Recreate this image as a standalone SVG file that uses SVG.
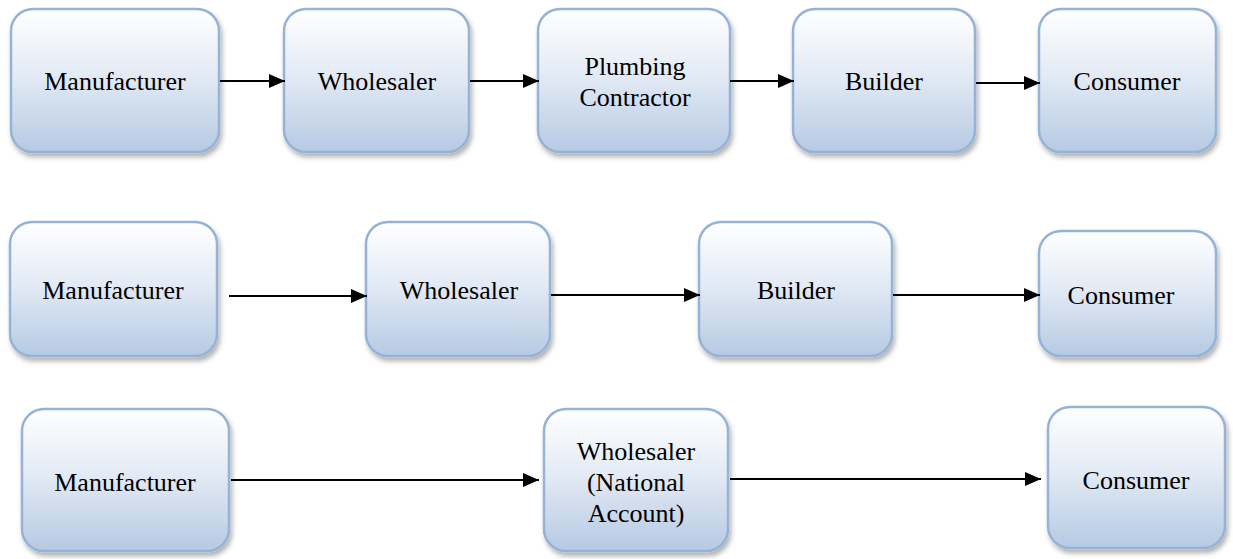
<svg xmlns="http://www.w3.org/2000/svg" width="1233" height="559" viewBox="0 0 1233 559">
  <defs>
    <linearGradient id="boxFill" x1="0" y1="0" x2="0" y2="1">
      <stop offset="0" stop-color="#ffffff"/>
      <stop offset="0.45" stop-color="#e4ebf5"/>
      <stop offset="1" stop-color="#b6cae3"/>
    </linearGradient>
    <filter id="shadow" x="-10%" y="-10%" width="125%" height="130%">
      <feDropShadow dx="2" dy="4" stdDeviation="2.5" flood-color="#000" flood-opacity="0.3"/>
    </filter>
    <marker id="arrow" viewBox="0 0 16 14" refX="16" refY="7" markerWidth="16" markerHeight="14" markerUnits="userSpaceOnUse" orient="auto">
      <path d="M0,0 L16,7 L0,14 z" fill="#000"/>
    </marker>
  </defs>
  <style>
    .box { fill: url(#boxFill); stroke: #95b3d7; stroke-width: 2.5; filter: url(#shadow); }
    .lbl { font-family: "Liberation Serif", "Times New Roman", serif; font-size: 26px; fill: #000; text-anchor: middle; }
    .conn { stroke: #000; stroke-width: 1.8; fill: none; marker-end: url(#arrow); }
  </style>
  <rect width="1233" height="559" fill="#ffffff"/>

  <!-- Row 1 -->
  <g id="r1-manufacturer">
    <rect class="box" x="11" y="9" width="208" height="143" rx="22"/>
    <text class="lbl" x="115" y="90">Manufacturer</text>
  </g>
  <g id="r1-wholesaler">
    <rect class="box" x="284" y="9" width="185" height="143" rx="22"/>
    <text class="lbl" x="377" y="90">Wholesaler</text>
  </g>
  <g id="r1-plumbing">
    <rect class="box" x="538" y="9" width="192" height="143" rx="22"/>
    <text class="lbl" x="635" y="75">Plumbing</text>
    <text class="lbl" x="635" y="106">Contractor</text>
  </g>
  <g id="r1-builder">
    <rect class="box" x="793" y="9" width="182" height="143" rx="22"/>
    <text class="lbl" x="884" y="90">Builder</text>
  </g>
  <g id="r1-consumer">
    <rect class="box" x="1039" y="9" width="177" height="143" rx="22"/>
    <text class="lbl" x="1127" y="90">Consumer</text>
  </g>

  <!-- Row 2 -->
  <g id="r2-manufacturer">
    <rect class="box" x="10" y="222" width="207" height="134" rx="22"/>
    <text class="lbl" x="113" y="299">Manufacturer</text>
  </g>
  <g id="r2-wholesaler">
    <rect class="box" x="366" y="222" width="184" height="134" rx="22"/>
    <text class="lbl" x="459" y="299">Wholesaler</text>
  </g>
  <g id="r2-builder">
    <rect class="box" x="699" y="222" width="193" height="134" rx="22"/>
    <text class="lbl" x="796" y="299">Builder</text>
  </g>
  <g id="r2-consumer">
    <rect class="box" x="1039" y="231" width="177" height="125" rx="22"/>
    <text class="lbl" x="1121" y="304">Consumer</text>
  </g>

  <!-- Row 3 -->
  <g id="r3-manufacturer">
    <rect class="box" x="22" y="409" width="207" height="142" rx="22"/>
    <text class="lbl" x="125" y="491">Manufacturer</text>
  </g>
  <g id="r3-wholesaler">
    <rect class="box" x="544" y="409" width="184" height="142" rx="22"/>
    <text class="lbl" x="636" y="460">Wholesaler</text>
    <text class="lbl" x="636" y="491">(National</text>
    <text class="lbl" x="636" y="522">Account)</text>
  </g>
  <g id="r3-consumer">
    <rect class="box" x="1048" y="407" width="177" height="141" rx="22"/>
    <text class="lbl" x="1136" y="489">Consumer</text>
  </g>

  <!-- Connectors -->
  <g id="connectors">
    <line class="conn" x1="220" y1="81" x2="285" y2="81"/>
    <line class="conn" x1="470" y1="81" x2="539" y2="81"/>
    <line class="conn" x1="730" y1="81" x2="794" y2="81"/>
    <line class="conn" x1="976" y1="83" x2="1040" y2="83"/>

    <line class="conn" x1="229" y1="296" x2="367" y2="296"/>
    <line class="conn" x1="551" y1="295" x2="700" y2="295"/>
    <line class="conn" x1="893" y1="295" x2="1040" y2="295"/>

    <line class="conn" x1="231" y1="480" x2="539" y2="480"/>
    <line class="conn" x1="730" y1="479" x2="1041" y2="479"/>
  </g>
</svg>
